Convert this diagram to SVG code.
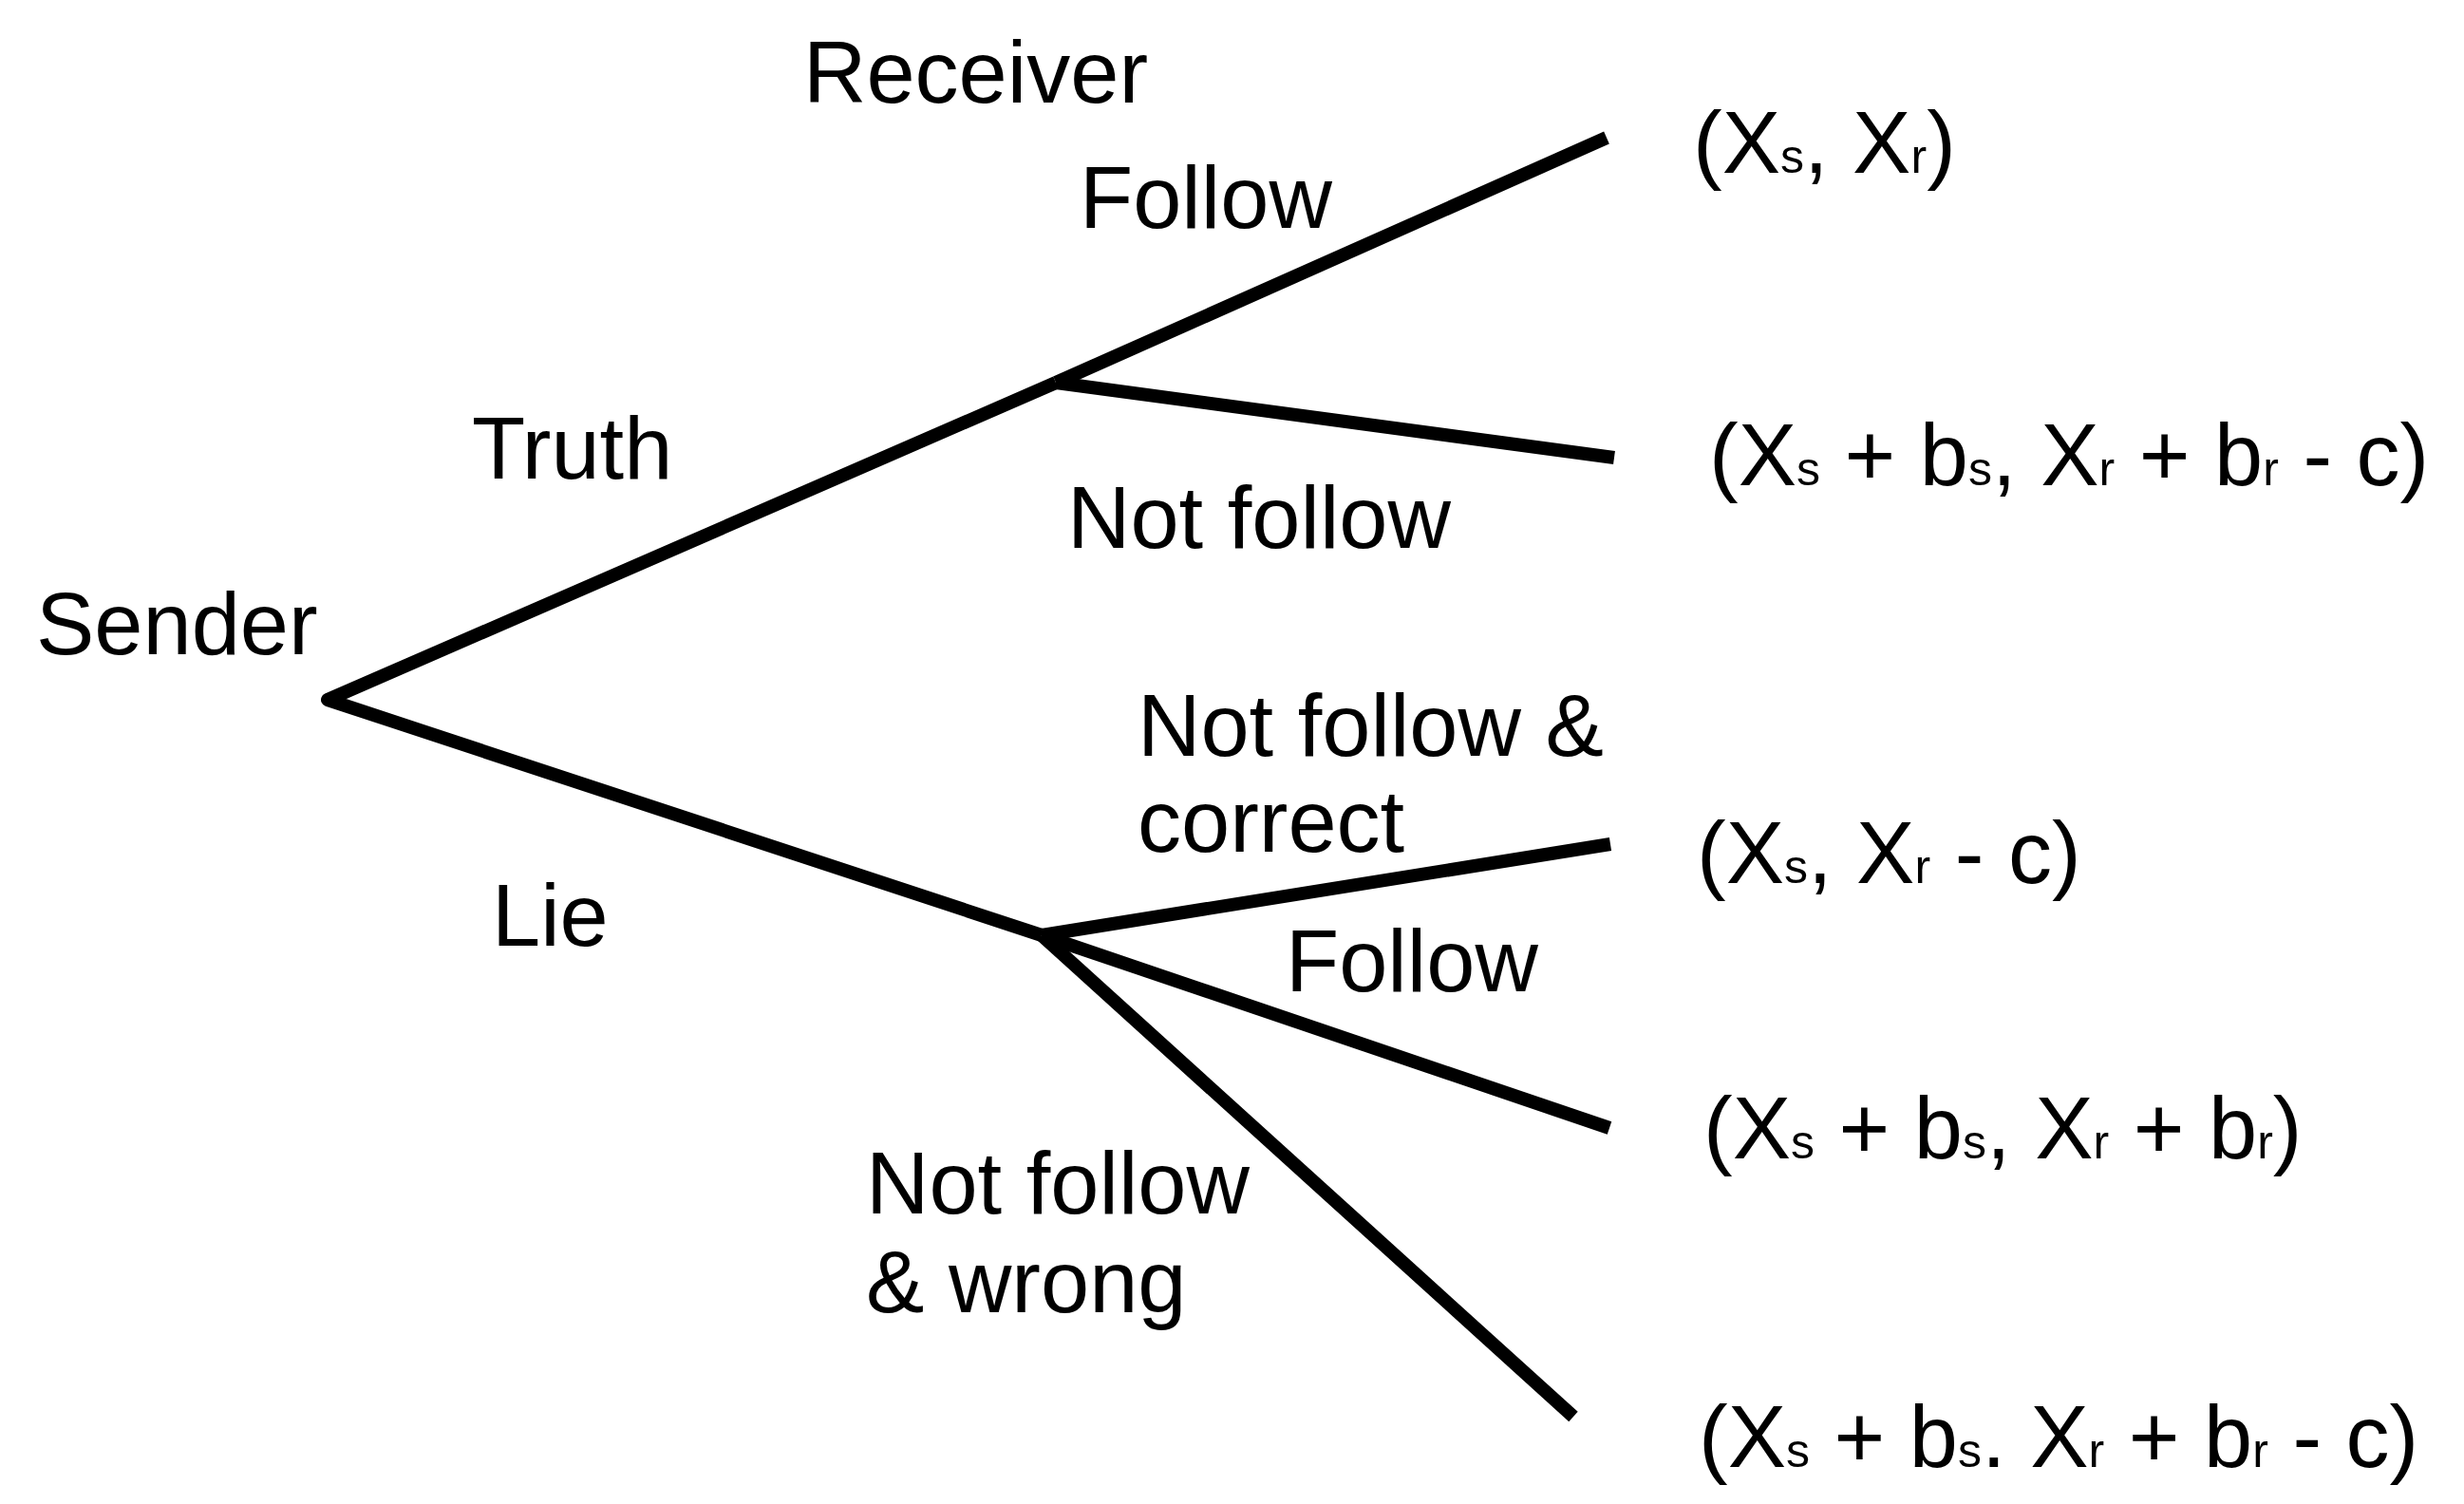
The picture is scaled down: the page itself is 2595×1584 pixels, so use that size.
<svg xmlns="http://www.w3.org/2000/svg" width="2595" height="1584" viewBox="0 0 2595 1584">
<style>
text{font-family:"Liberation Sans",Arial,sans-serif;font-size:92px;fill:#000}
.sub{font-size:50px}
.edge{fill:none;stroke:#000;stroke-width:14;stroke-linejoin:round;stroke-linecap:butt}
</style>
<rect width="2595" height="1584" fill="#fff"/>
<g id="connectors">
<path class="edge" d="M1112,403 L345,737 L1097,985"/>
<path class="edge" d="M1112,403 L1692,145"/>
<path class="edge" d="M1112,403 L1700,482"/>
<path class="edge" d="M1097,985 L1696,889"/>
<path class="edge" d="M1097,985 L1695,1188"/>
<path class="edge" d="M1097,985 L1657,1492"/>
<text x="497" y="504">Truth</text>
<text x="518" y="996">Lie</text>
<text x="1137" y="240">Follow</text>
<text x="1124" y="577">Not follow</text>
<text x="1198" y="796">Not follow &amp;</text>
<text x="1198" y="897">correct</text>
<text x="1354" y="1044">Follow</text>
<text x="912" y="1278">Not follow</text>
<text x="912" y="1382">&amp; wrong</text>
</g>
<g id="sender"><text x="38" y="689">Sender</text></g>
<g id="receiver"><text x="846" y="108">Receiver</text></g>
<g id="payoff1"><text x="1783" y="182">(X<tspan class="sub">s</tspan>, X<tspan class="sub">r</tspan>)</text></g>
<g id="payoff2"><text x="1800" y="511">(X<tspan class="sub">s</tspan> + b<tspan class="sub">s</tspan>, X<tspan class="sub">r</tspan> + b<tspan class="sub">r</tspan> - c)</text></g>
<g id="payoff3"><text x="1787" y="930">(X<tspan class="sub">s</tspan>, X<tspan class="sub">r</tspan> - c)</text></g>
<g id="payoff4"><text x="1794" y="1220">(X<tspan class="sub">s</tspan> + b<tspan class="sub">s</tspan>, X<tspan class="sub">r</tspan> + b<tspan class="sub">r</tspan>)</text></g>
<g id="payoff5"><text x="1789" y="1545">(X<tspan class="sub">s</tspan> + b<tspan class="sub">s</tspan>. X<tspan class="sub">r</tspan> + b<tspan class="sub">r</tspan> - c)</text></g>
</svg>
